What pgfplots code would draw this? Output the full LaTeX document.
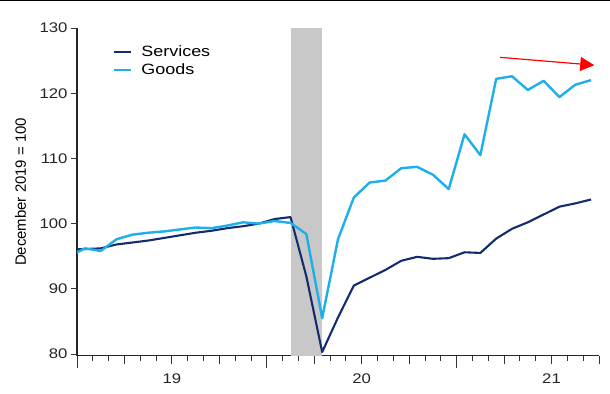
\documentclass[border=0pt]{standalone}
\usepackage{fontspec}
\setmainfont{Liberation Sans}[FakeStretch=1.2]
\newfontfamily\plainsans{Liberation Sans}
\usepackage{pgfplots}
\usepackage{pgfplotstable}
\pgfplotsset{compat=1.18}
\usetikzlibrary{arrows.meta}
\definecolor{navy}{RGB}{18,45,110}
\definecolor{lblue}{RGB}{30,175,235}
\definecolor{band}{RGB}{200,200,200}

\pgfplotstableread{
m services goods
-0.5 96.0 95.0
0.5 96.1 96.2
1.5 96.2 95.8
2.5 96.8 97.6
3.5 97.1 98.3
4.5 97.4 98.6
5.5 97.8 98.8
6.5 98.2 99.1
7.5 98.6 99.4
8.5 98.9 99.3
9.5 99.3 99.7
10.5 99.6 100.2
11.5 100.0 100.0
12.5 100.7 100.4
13.5 101.0 100.1
14.5 91.9 98.4
15.5 80.3 85.5
16.5 85.6 97.6
17.5 90.5 104.0
18.5 91.7 106.3
19.5 92.9 106.6
20.5 94.3 108.5
21.5 94.9 108.7
22.5 94.6 107.5
23.5 94.7 105.3
24.5 95.6 113.7
25.5 95.5 110.5
26.5 97.7 122.2
27.5 99.2 122.6
28.5 100.2 120.5
29.5 101.4 121.9
30.5 102.6 119.4
31.5 103.1 121.3
32.5 103.7 122.0
}\data

\begin{document}
\begin{tikzpicture}
\useasboundingbox (0,0) rectangle (610bp,394bp);
\draw[line width=1.2bp] (0,393.4bp) -- (610bp,393.4bp);
\begin{axis}[
  at={(77bp,38.3bp)}, anchor=south west,
  scale only axis, width=522bp, height=327.7bp,
  xmin=0, xmax=33, ymin=79.74, ymax=130,
  axis lines*=left,
  axis line style={line width=1.1bp, black!85},
  every tick/.style={line width=0.9bp, black!80},
  tick align=outside,
  major tick length=8bp,
  minor tick length=5bp,
  xtick={0,3,...,33},
  xticklabels={,,19,,,,20,,,,21,},
  minor xtick={1,...,33},
  extra x ticks={0,12,24},
  extra x tick labels={},
  extra x tick style={major tick length=12bp},
  ytick=\empty,
  extra y ticks={80,90,...,130},
  extra y tick style={major tick length=6bp},
  /pgf/number format/assume math mode=true,
  ticklabel style={font=\fontsize{14}{16}\selectfont, text=black!85},
  xticklabel style={yshift=-7bp},
  ylabel={\plainsans December 2019 = 100},
  ylabel style={at={(axis description cs:-0.108,0.5)}, anchor=center, font=\fontsize{15}{17}\selectfont},
  clip=true,
  legend style={at={(axis description cs:0.062,0.958)}, anchor=north west,
    draw=none, fill=none, font=\fontsize{15}{17}\selectfont, row sep=3bp,
    nodes={inner sep=1.5bp}},
  legend cell align=left,
  legend image code/.code={\draw[#1] (0bp,0bp) -- (17bp,0bp); \path (25bp,0bp);},
]
\addplot[fill=band, draw=none, forget plot] coordinates {(13.5,79.74) (15.5,79.74) (15.5,130) (13.5,130)} -- cycle;
\addplot[navy, line width=2.1bp, line join=round] table[x=m, y=services] {\data};
\addlegendentry{Services}
\addplot[lblue, line width=2.4bp, line join=round] table[x=m, y=goods] {\data};
\addlegendentry{Goods}
\draw[red, line width=1.2bp, -{Triangle[length=14bp,width=14bp]}] (axis cs:26.74,125.5) -- (axis cs:32.7,124.3);
\end{axis}
\end{tikzpicture}
\end{document}
